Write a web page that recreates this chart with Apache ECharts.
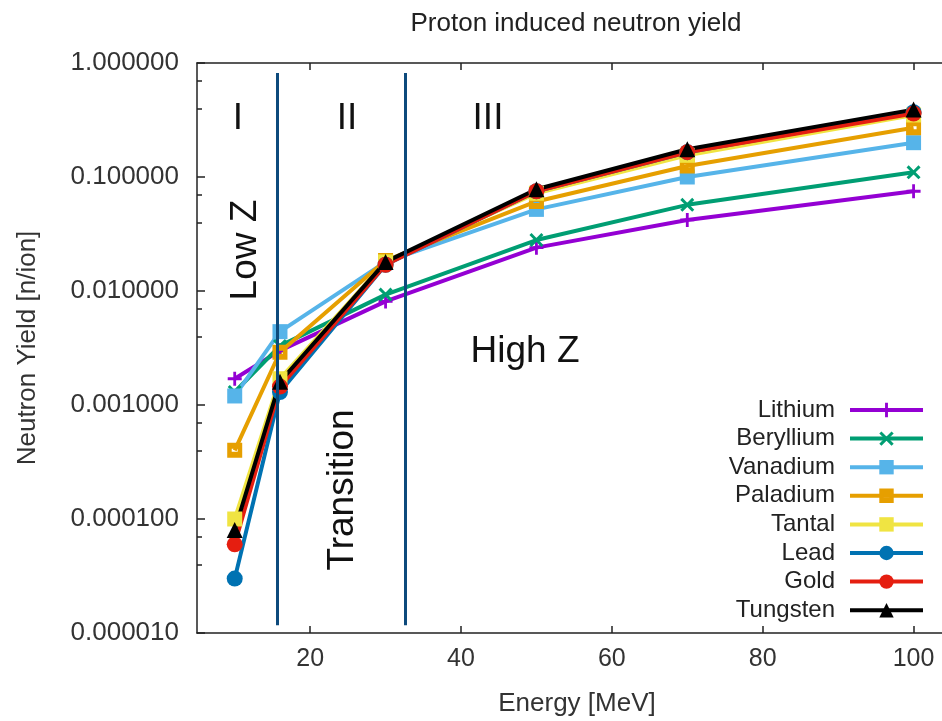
<!DOCTYPE html>
<html>
<head>
<meta charset="utf-8">
<script src="https://cdn.jsdelivr.net/npm/echarts@6/dist/echarts.min.js"></script>
<style>
  html, body { margin: 0; padding: 0; background: #fff; }
  #main { width: 942px; height: 721px; }
</style>
</head>
<body>
<div id="main"></div>
<script>
// energies in MeV
const energy = [10, 16, 30, 50, 70, 100];
const xTicks = [20, 40, 60, 80, 100];

const lithium   = [0.0017, 0.0030, 0.0081, 0.024, 0.042, 0.075];
const beryllium = [0.0013, 0.0033, 0.0093, 0.028, 0.057, 0.11];
const vanadium  = [0.0012, 0.0044, 0.018, 0.052, 0.10, 0.20];
const paladium  = [0.0004, 0.0029, 0.0185, 0.061, 0.125, 0.27];
const tantal    = [0.0001, 0.0017, 0.018, 0.072, 0.155, 0.35];
const lead      = [0.00003, 0.0013, 0.017, 0.075, 0.165, 0.37];
const gold      = [0.00006, 0.00145, 0.017, 0.075, 0.165, 0.36];
const tungsten  = [0.00008, 0.0016, 0.018, 0.078, 0.175, 0.39];

const regionLines = [15.6, 32.6];

const font = 'Liberation Sans, Arial, sans-serif';

const plusPath = 'path://M-1.2,-6H1.2V-1.2H6V1.2H1.2V6H-1.2V1.2H-6V-1.2H-1.2Z';
const crossPath = 'path://M-6,-4.2L-4.2,-6L0,-1.8L4.2,-6L6,-4.2L1.8,0L6,4.2L4.2,6L0,1.8L-4.2,6L-6,4.2L-1.8,0Z';
const boxDotPath = 'path://M0,0H10V10H0Z M3,4V6H7V4Z';

const defs = [
    { name: 'Lithium',   data: lithium,   color: '#9400d3', symbol: plusPath,   size: 14 },
    { name: 'Beryllium', data: beryllium, color: '#009e73', symbol: crossPath,  size: 14 },
    { name: 'Vanadium',  data: vanadium,  color: '#56b4e9', symbol: 'rect',     size: 15 },
    { name: 'Paladium',  data: paladium,  color: '#e69f00', symbol: boxDotPath, size: 15 },
    { name: 'Tantal',    data: tantal,    color: '#f0e442', symbol: 'rect',     size: 15 },
    { name: 'Lead',      data: lead,      color: '#0072b2', symbol: 'circle',   size: 16 },
    { name: 'Gold',      data: gold,      color: '#e51e10', symbol: 'circle',   size: 16 },
    { name: 'Tungsten',  data: tungsten,  color: '#000000', symbol: 'triangle', size: 16 }
];

const series = defs.map((d) => ({
    name: d.name,
    type: 'line',
    data: energy.map((e, i) => [e, d.data[i]]),
    symbol: d.symbol,
    symbolSize: d.size,
    lineStyle: { color: d.color, width: 4 },
    itemStyle: { color: d.color },
    z: 3
}));

// vertical separators between regions
series.push({
    name: 'regions',
    type: 'line',
    data: [],
    silent: true,
    markLine: {
        symbol: 'none',
        silent: true,
        label: { show: false },
        lineStyle: { color: '#0d4a7c', width: 3, type: 'solid' },
        data: regionLines.map((x) => [
            { coord: [x, 1.17e-5] },
            { coord: [x, 0.817] }
        ])
    }
});

const bigText = { fontFamily: font, fontSize: 37, fill: '#111' };
const label = (text, x, y, rot) => ({
    type: 'text', x: x, y: y, rotation: rot || 0,
    style: Object.assign({ text: text, align: 'center', verticalAlign: 'middle' }, bigText)
});

const option = {
    backgroundColor: '#fff',
    animation: false,
    title: {
        text: 'Proton induced neutron yield',
        left: 571,
        top: 6,
        textAlign: 'center',
        textStyle: { fontFamily: font, fontSize: 26, fontWeight: 'normal', color: '#222' }
    },
    grid: { left: 197, top: 63, right: -47, bottom: 88, containLabel: false, outerBoundsMode: 'none' },
    legend: {
        orient: 'vertical',
        right: 12,
        top: 393,
        align: 'right',
        itemWidth: 73,
        itemHeight: 18,
        itemGap: 4.6,
        data: defs.map((d) => d.name),
        lineStyle: { width: 4 },
        textStyle: { fontFamily: font, fontSize: 24, color: '#222', width: 130, align: 'right', padding: [0, 10, 0, 0] }
    },
    xAxis: [{
        type: 'value',
        min: 5,
        max: 110,
        name: 'Energy [MeV]',
        nameLocation: 'middle',
        nameGap: 58,
        nameTextStyle: { fontFamily: font, fontSize: 26, color: '#333', padding: [0, 32, 0, 0] },
        axisLine: { lineStyle: { color: '#222', width: 1.5 } },
        axisTick: { inside: true, length: 7, customValues: xTicks, lineStyle: { color: '#222', width: 1.5 } },
        axisLabel: { fontFamily: font, fontSize: 25, color: '#333', margin: 14, customValues: xTicks },
        splitLine: { show: false }
    }, {
        type: 'value',
        position: 'top',
        min: 5,
        max: 110,
        axisLine: { lineStyle: { color: '#222', width: 1.5 } },
        axisTick: { inside: true, length: 7, customValues: xTicks, lineStyle: { color: '#222', width: 1.5 } },
        axisLabel: { show: false },
        splitLine: { show: false }
    }],
    yAxis: {
        type: 'log',
        logBase: 10,
        min: 1e-5,
        max: 1,
        name: 'Neutron Yield [n/ion]',
        nameLocation: 'middle',
        nameGap: 156,
        nameTextStyle: { fontFamily: font, fontSize: 26, color: '#333' },
        axisLine: { show: true, lineStyle: { color: '#222', width: 1.5 } },
        axisTick: { inside: true, length: 8, lineStyle: { color: '#222', width: 1.5 } },
        minorTick: { show: true, splitNumber: 3, length: 5, lineStyle: { color: '#222', width: 1.5 } },
        axisLabel: {
            fontFamily: font, fontSize: 26, color: '#333', margin: 18,
            formatter: (v) => v.toFixed(6)
        },
        splitLine: { show: false }
    },
    graphic: [
        label('I', 238, 119),
        label('II', 347, 119),
        label('III', 488, 119),
        label('Low Z', 246, 250, Math.PI / 2),
        label('Transition', 343, 490, Math.PI / 2),
        label('High Z', 525, 352)
    ],
    series: series
};

const myChart = echarts.init(document.getElementById('main'));
myChart.setOption(option);
</script>
</body>
</html>
